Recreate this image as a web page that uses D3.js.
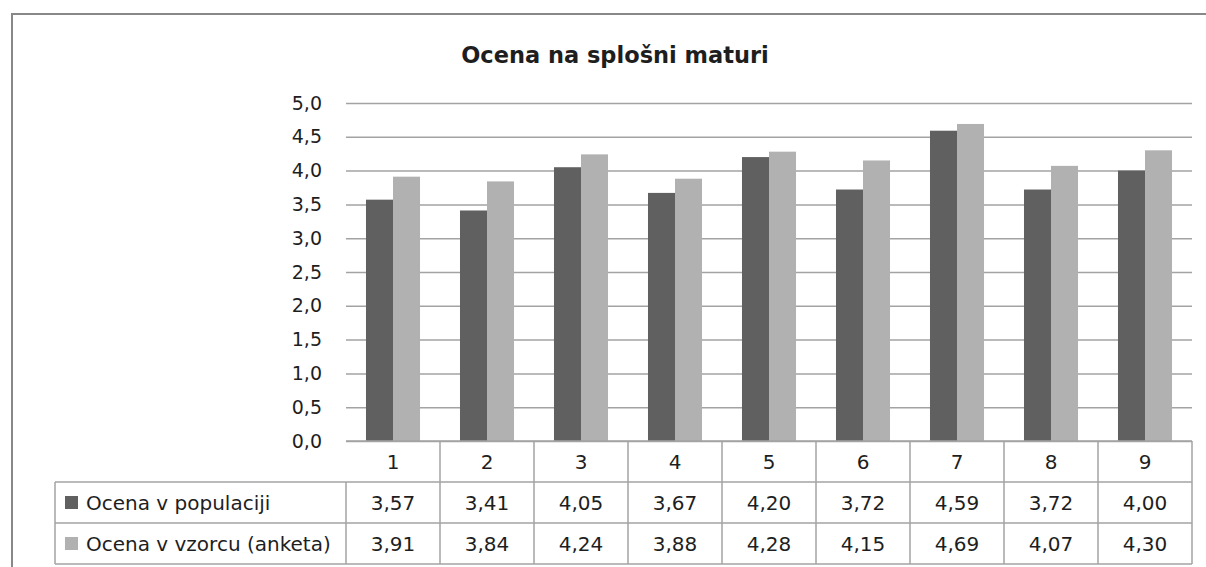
<!DOCTYPE html>
<html>
<head>
<meta charset="utf-8">
<script src="https://cdn.jsdelivr.net/npm/d3@7"></script>
<style>
  body { margin: 0; background: #fff; }
  text { font-family: "DejaVu Sans", sans-serif; fill: #1e1e1e; }
</style>
</head>
<body>
<div id="chart"></div>
<script>
const categories = ['1', '2', '3', '4', '5', '6', '7', '8', '9'];
const seriesNames = ['Ocena v populaciji', 'Ocena v vzorcu (anketa)'];
const populacija = [3.57, 3.41, 4.05, 3.67, 4.20, 3.72, 4.59, 3.72, 4.00];
const vzorec = [3.91, 3.84, 4.24, 3.88, 4.28, 4.15, 4.69, 4.07, 4.30];
const yTicks = [0, 0.5, 1, 1.5, 2, 2.5, 3, 3.5, 4, 4.5, 5];

const series = [populacija, vzorec];
const colors = ['#606060', '#b1b1b1'];
const fmt = v => d3.format('.2f')(v).replace('.', ',');

const W = 1206, H = 567;
const plot = { left: 346, right: 1192, top: 103, bottom: 441 };
const rowH = 41;
const fontSize = '20px';

const svg = d3.select('#chart')
  .append('svg')
  .attr('width', W)
  .attr('height', H);

// outer frame (cut off on the right and bottom)
svg.append('path')
  .attr('d', `M12,${H} V14 H${W}`)
  .attr('fill', 'none')
  .attr('stroke', '#888')
  .attr('stroke-width', 2);

// title
svg.append('text')
  .attr('x', 615)
  .attr('y', 63)
  .attr('text-anchor', 'middle')
  .style('font-size', '22.5px')
  .style('font-weight', 'bold')
  .text('Ocena na splošni maturi');

const x = d3.scaleBand()
  .domain(categories)
  .range([plot.left, plot.right]);

const x1 = d3.scaleBand()
  .domain([0, 1])
  .range([0, x.bandwidth()])
  .paddingOuter(0.74);

const y = d3.scaleLinear()
  .domain([0, 5])
  .range([plot.bottom, plot.top]);

// gridlines
svg.append('g')
  .attr('transform', `translate(${plot.left},0)`)
  .call(d3.axisRight(y).tickValues(yTicks).tickSize(plot.right - plot.left).tickFormat(''))
  .call(g => g.select('.domain').remove())
  .call(g => g.selectAll('line').attr('stroke', '#a3a3a3').attr('stroke-width', 1.5));

// y axis labels
svg.append('g')
  .attr('transform', `translate(${plot.left},0)`)
  .call(d3.axisLeft(y).tickValues(yTicks).tickSize(0).tickPadding(24).tickFormat(d => d3.format('.1f')(d).replace('.', ',')))
  .call(g => g.select('.domain').remove())
  .call(g => g.selectAll('text')
    .attr('fill', '#1e1e1e')
    .style('font-size', '19px')
    .style('font-family', '"DejaVu Sans", sans-serif'));

// bars
const groups = svg.append('g')
  .selectAll('g')
  .data(categories)
  .enter()
  .append('g')
  .attr('transform', d => `translate(${x(d)},0)`);

groups.selectAll('rect')
  .data((d, i) => series.map((s, k) => ({ k, v: s[i] })))
  .enter()
  .append('rect')
  .attr('x', d => x1(d.k))
  .attr('width', x1.bandwidth())
  .attr('y', d => y(d.v))
  .attr('height', d => y(0) - y(d.v))
  .attr('fill', d => colors[d.k]);

// data table
const table = svg.append('g');
const tableLeft = 55;
const lineColor = '#a3a3a3';

// vertical lines between categories
table.selectAll('line.col')
  .data(categories.slice(1).concat(['end']))
  .enter()
  .append('line')
  .attr('class', 'col')
  .attr('x1', d => d === 'end' ? plot.right : x(d))
  .attr('x2', d => d === 'end' ? plot.right : x(d))
  .attr('y1', plot.bottom)
  .attr('y2', plot.bottom + 3 * rowH)
  .attr('stroke', lineColor)
  .attr('stroke-width', 1.5);

table.selectAll('text.cat')
  .data(categories)
  .enter()
  .append('text')
  .attr('class', 'cat')
  .attr('x', d => x(d) + x.bandwidth() / 2)
  .attr('y', plot.bottom + rowH / 2 + 7)
  .attr('text-anchor', 'middle')
  .style('font-size', fontSize)
  .text(d => d);

// horizontal lines
[0, 1, 2, 3].forEach(r => {
  table.append('line')
    .attr('x1', r === 0 ? plot.left : tableLeft)
    .attr('x2', plot.right)
    .attr('y1', plot.bottom + r * rowH)
    .attr('y2', plot.bottom + r * rowH)
    .attr('stroke', lineColor)
    .attr('stroke-width', 1.5);
});

[tableLeft, plot.left].forEach(lx => {
  table.append('line')
    .attr('x1', lx).attr('x2', lx)
    .attr('y1', plot.bottom + rowH).attr('y2', plot.bottom + 3 * rowH)
    .attr('stroke', lineColor).attr('stroke-width', 1.5);
});

// series rows
series.forEach((s, k) => {
  const rowY = plot.bottom + (k + 1) * rowH;
  table.append('rect')
    .attr('x', 65)
    .attr('y', rowY + 14)
    .attr('width', 13)
    .attr('height', 13)
    .attr('fill', colors[k]);
  table.append('text')
    .attr('x', 86)
    .attr('y', rowY + rowH / 2 + 7)
    .style('font-size', fontSize)
    .text(seriesNames[k]);
  table.selectAll(`text.v${k}`)
    .data(s)
    .enter()
    .append('text')
    .attr('class', `v${k}`)
    .attr('x', (d, i) => x(categories[i]) + x.bandwidth() / 2)
    .attr('y', rowY + rowH / 2 + 7)
    .attr('text-anchor', 'middle')
    .style('font-size', fontSize)
    .text(d => fmt(d));
});
</script>
</body>
</html>
